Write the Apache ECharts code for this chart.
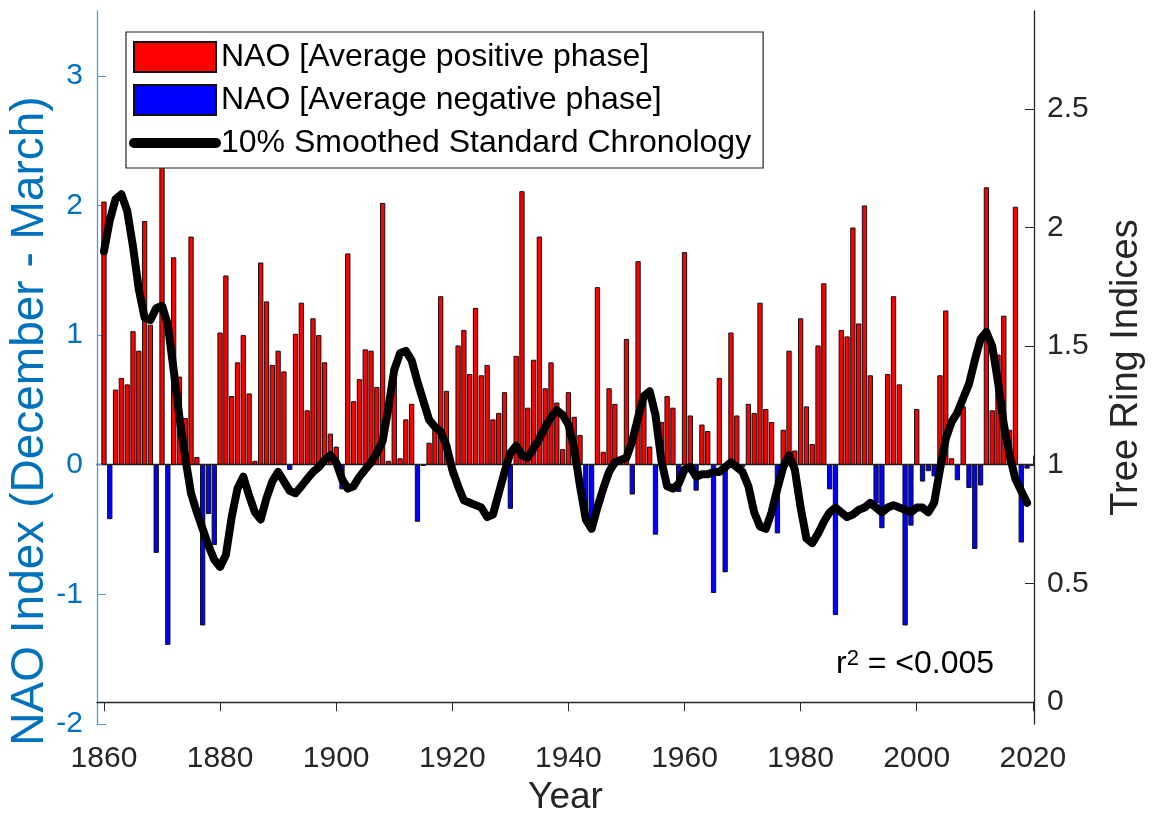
<!DOCTYPE html>
<html>
<head>
<meta charset="utf-8">
<script src="https://cdn.jsdelivr.net/npm/echarts@6/dist/echarts.min.js"></script>
<style>
html,body{margin:0;padding:0;background:#ffffff;}
#chart{width:1152px;height:823px;}
</style>
</head>
<body>
<div id="chart"></div>
<script>
// ---- data ----
const startYear = 1860;
// NAO index (December - March), one value per year 1860..2019
const naoValues = [
  2.03,-0.42,0.58,0.67,0.62,1.03,0.88,1.88,1.08,-0.68,
  2.40,-1.39,1.60,0.68,0.36,1.76,0.06,-1.24,-0.38,-0.62,
  1.02,1.46,0.53,0.79,1.00,0.55,0.03,1.56,1.26,0.77,
  0.88,0.72,-0.04,1.01,1.25,0.42,1.13,1.00,0.79,0.24,
  0.14,-0.19,1.63,0.49,0.66,0.89,0.88,0.60,2.02,0.03,
  0.68,0.05,0.35,0.47,-0.44,-0.01,0.17,0.27,1.30,0.57,
  -0.09,0.92,1.04,0.70,1.21,0.69,0.77,0.35,0.40,0.56,
  -0.34,0.84,2.11,0.44,0.81,1.76,0.59,0.79,0.48,0.12,
  0.56,0.37,0.23,-0.42,-0.51,1.37,0.10,0.59,0.47,0.04,
  0.97,-0.23,1.57,0.55,0.14,-0.54,0.33,0.53,0.44,-0.21,
  1.64,0.38,-0.20,0.31,0.26,-0.99,0.67,-0.83,1.02,0.38,
  -0.02,0.47,0.40,1.25,0.43,0.33,-0.53,0.27,0.88,0.11,
  1.13,0.45,0.16,0.92,1.40,-0.19,-1.16,1.04,0.99,1.83,
  1.09,2.00,0.69,-0.30,-0.49,0.70,1.30,0.62,-1.24,-0.47,
  0.43,-0.13,-0.05,-0.09,0.69,1.19,0.05,-0.12,0.45,-0.18,
  -0.65,-0.16,2.14,0.42,0.85,1.15,0.27,1.99,-0.60,-0.03
];
// 10% smoothed standard chronology (tree ring indices), 1860..2019
const treeRing = [
  1.90,2.03,2.12,2.14,2.07,1.92,1.74,1.62,1.61,1.66,
  1.67,1.59,1.40,1.20,1.03,0.88,0.80,0.73,0.66,0.60,
  0.57,0.62,0.78,0.90,0.95,0.87,0.80,0.77,0.86,0.93,
  0.97,0.93,0.89,0.88,0.91,0.94,0.97,0.99,1.02,1.04,
  1.01,0.94,0.90,0.91,0.95,0.98,1.01,1.05,1.10,1.24,
  1.40,1.47,1.48,1.44,1.35,1.27,1.19,1.16,1.14,1.08,
  0.98,0.91,0.85,0.84,0.83,0.82,0.78,0.79,0.88,0.97,
  1.05,1.08,1.04,1.03,1.07,1.11,1.16,1.20,1.23,1.21,
  1.17,1.07,0.91,0.77,0.73,0.82,0.90,0.97,1.01,1.02,
  1.03,1.10,1.20,1.29,1.31,1.21,1.02,0.91,0.90,0.92,
  0.98,0.99,0.95,0.96,0.96,0.97,0.97,0.99,1.01,0.99,
  0.97,0.91,0.80,0.74,0.73,0.80,0.90,0.99,1.04,0.98,
  0.82,0.69,0.67,0.71,0.76,0.80,0.82,0.80,0.78,0.79,
  0.81,0.82,0.84,0.82,0.80,0.82,0.83,0.82,0.81,0.80,
  0.82,0.82,0.80,0.84,0.98,1.11,1.18,1.22,1.28,1.34,
  1.44,1.53,1.56,1.50,1.35,1.17,1.04,0.94,0.89,0.84
];
const xTickValues = [1860,1880,1900,1920,1940,1960,1980,2000,2020];
const leftTickValues = [-2,-1,0,1,2,3];
const rightTickValues = [0,0.5,1,1.5,2,2.5];
const seriesNames = ['NAO [Average positive phase]','NAO [Average negative phase]','10% Smoothed Standard Chronology'];
const xTitle = 'Year';
const leftTitle = 'NAO Index (December - March)';
const rightTitle = 'Tree Ring Indices';
const noteText = '{r|r}{s|2}{t| = <0.005}';

// ---- build ----
const years = naoValues.map((_, i) => startYear + i);
const posData = [], negData = [];
years.forEach((y, i) => {
  if (naoValues[i] >= 0) posData.push([y, naoValues[i]]);
  else negData.push([y, naoValues[i]]);
});
const lineData = years.map((y, i) => [y, treeRing[i]]);

const FONT = '"Liberation Sans", Arial, Helvetica, sans-serif';
const DARK = '#262626';
const BLUE = '#0072BD';
const X_MIN = 1858.8, X_MAX = 2020.2;

const chart = echarts.init(document.getElementById('chart'), null, {renderer: 'canvas'});
chart.setOption({
  animation: false,
  backgroundColor: '#ffffff',
  textStyle: {fontFamily: FONT},
  grid: {left: 97, right: 118, top: 11, bottom: 99, containLabel: false, outerBoundsMode: 'none'},
  legend: {
    left: 126, top: 32, orient: 'vertical',
    itemWidth: 82, itemHeight: 30, itemGap: 11,
    padding: [9, 12, 9, 3],
    borderColor: '#262626', borderWidth: 1.2, backgroundColor: '#ffffff',
    selectedMode: false,
    textStyle: {fontSize: 32, color: '#000000', fontFamily: FONT},
    data: [
      {name: seriesNames[0], icon: 'rect'},
      {name: seriesNames[1], icon: 'rect'},
      {name: seriesNames[2],
       itemStyle: {color: 'rgba(0,0,0,0)', borderWidth: 0, opacity: 0},
       lineStyle: {color: '#000000', width: 10}}
    ]
  },
  xAxis: [
    {
      type: 'value', min: X_MIN, max: X_MAX, position: 'bottom',
      axisLine: {show: true, lineStyle: {color: DARK, width: 1.3}},
      axisTick: {show: true, inside: true, length: 9, customValues: xTickValues, lineStyle: {color: DARK}},
      axisLabel: {customValues: xTickValues, formatter: v => String(v), fontSize: 30, color: DARK, margin: 20, fontFamily: FONT},
      splitLine: {show: false},
      name: xTitle, nameLocation: 'middle', nameGap: 54,
      nameTextStyle: {fontSize: 37, color: DARK, fontFamily: FONT}
    },
    {
      type: 'value', min: X_MIN, max: X_MAX, position: 'top',
      axisLine: {show: true, lineStyle: {color: DARK, width: 1.3}},
      axisTick: {show: true, inside: true, length: 9, customValues: xTickValues, lineStyle: {color: DARK}},
      axisLabel: {show: false},
      splitLine: {show: false}
    }
  ],
  yAxis: [
    {
      type: 'value', min: -2, max: 3.5, position: 'left',
      axisLine: {show: true, lineStyle: {color: '#4a9fd8', width: 1.3}},
      axisTick: {show: true, inside: true, length: 9, customValues: leftTickValues, lineStyle: {color: '#4a9fd8'}},
      axisLabel: {customValues: leftTickValues, formatter: v => String(v), fontSize: 30, color: BLUE, margin: 14, fontFamily: FONT},
      splitLine: {show: false}
    },
    {
      type: 'value', min: -0.092, max: 2.912, position: 'right',
      axisLine: {show: true, lineStyle: {color: DARK, width: 1.3}},
      axisTick: {show: true, inside: true, length: 9, customValues: rightTickValues, lineStyle: {color: DARK}},
      axisLabel: {customValues: rightTickValues, formatter: v => String(v), fontSize: 30, color: DARK, margin: 13, fontFamily: FONT},
      splitLine: {show: false},
      name: rightTitle, nameLocation: 'middle', nameGap: 74,
      nameTextStyle: {fontSize: 38, color: DARK, fontFamily: FONT}
    }
  ],
  series: [
    {
      name: seriesNames[0], type: 'bar', xAxisIndex: 0, yAxisIndex: 0,
      data: posData, barWidth: 5.3, barGap: '-100%',
      itemStyle: {color: '#FF0000', borderColor: '#111111', borderWidth: 1}
    },
    {
      name: seriesNames[1], type: 'bar', xAxisIndex: 0, yAxisIndex: 0,
      data: negData, barWidth: 5.3, barGap: '-100%',
      itemStyle: {color: '#0000FF', borderColor: '#111111', borderWidth: 1}
    },
    {
      name: seriesNames[2], type: 'line', xAxisIndex: 0, yAxisIndex: 1,
      data: lineData, symbol: 'none', showSymbol: false, z: 5,
      lineStyle: {color: '#000000', width: 8, join: 'round', cap: 'round'},
      itemStyle: {color: '#000000'}
    }
  ],
  graphic: [
    {
      type: 'text', x: 30, y: 421, rotation: Math.PI / 2, z: 10,
      style: {
        text: leftTitle,
        fill: BLUE,
        fontSize: 46,
        fontFamily: FONT,
        align: 'center',
        verticalAlign: 'middle'
      }
    },
    {
      type: 'text', left: 836, top: 648, z: 10,
      style: {
        text: noteText,
        fill: '#000000',
        fontFamily: FONT,
        rich: {
          r: {fontSize: 32, fill: '#000', fontFamily: FONT, verticalAlign: 'bottom'},
          s: {fontSize: 22, fill: '#000', fontFamily: FONT, verticalAlign: 'top', padding: [0, 0, 10, 0]},
          t: {fontSize: 32, fill: '#000', fontFamily: FONT, verticalAlign: 'bottom'}
        }
      }
    }
  ]
});
</script>
</body>
</html>
